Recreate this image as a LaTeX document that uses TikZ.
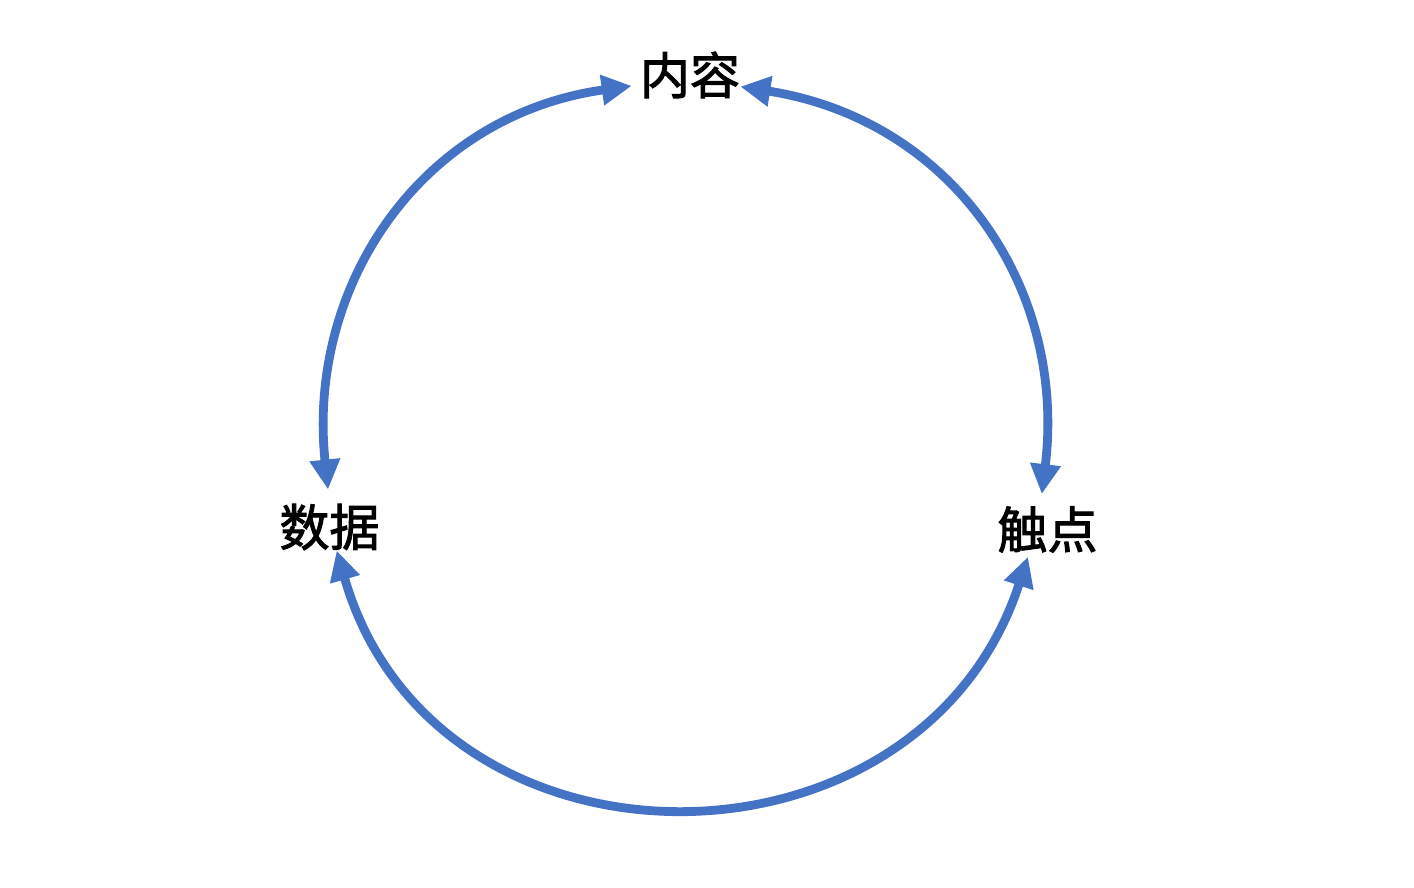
\documentclass[tikz,border=0pt]{standalone}
\usepackage{fontspec}
\newfontfamily\cjk{Noto Sans CJK SC}[FakeBold=2]
\usetikzlibrary{arrows.meta}
\definecolor{arcblue}{HTML}{4472C4}
\tikzset{
  lbl/.style={inner sep=0pt, font=\cjk\fontsize{25}{30}\selectfont},
  link/.style={draw=arcblue, line width=4.4pt,
    {Triangle[length=15pt,width=14.5pt]}-{Triangle[length=15pt,width=14.5pt]}}
}
\begin{document}
\begin{tikzpicture}[x=0.5pt,y=0.5pt]
\useasboundingbox (0,0) rectangle (1414,888);
\node[lbl] (con) at (690,813) {内容};
\node[lbl] (dat) at (329.5,361) {数据};
\node[lbl] (tou) at (1047.5,358.5) {触点};

\path[link, shorten <=7pt, shorten >=4pt] (dat.north) to[out=96,in=188,looseness=1.08] (con.191);
\path[link, shorten >=6pt] (con.-13) to[out=-9,in=83,looseness=1.08] (tou.107);
\path[link, shorten >=2pt] (dat.-73) to[out=286,in=252,looseness=1.3] (tou.232);
\end{tikzpicture}
\end{document}
